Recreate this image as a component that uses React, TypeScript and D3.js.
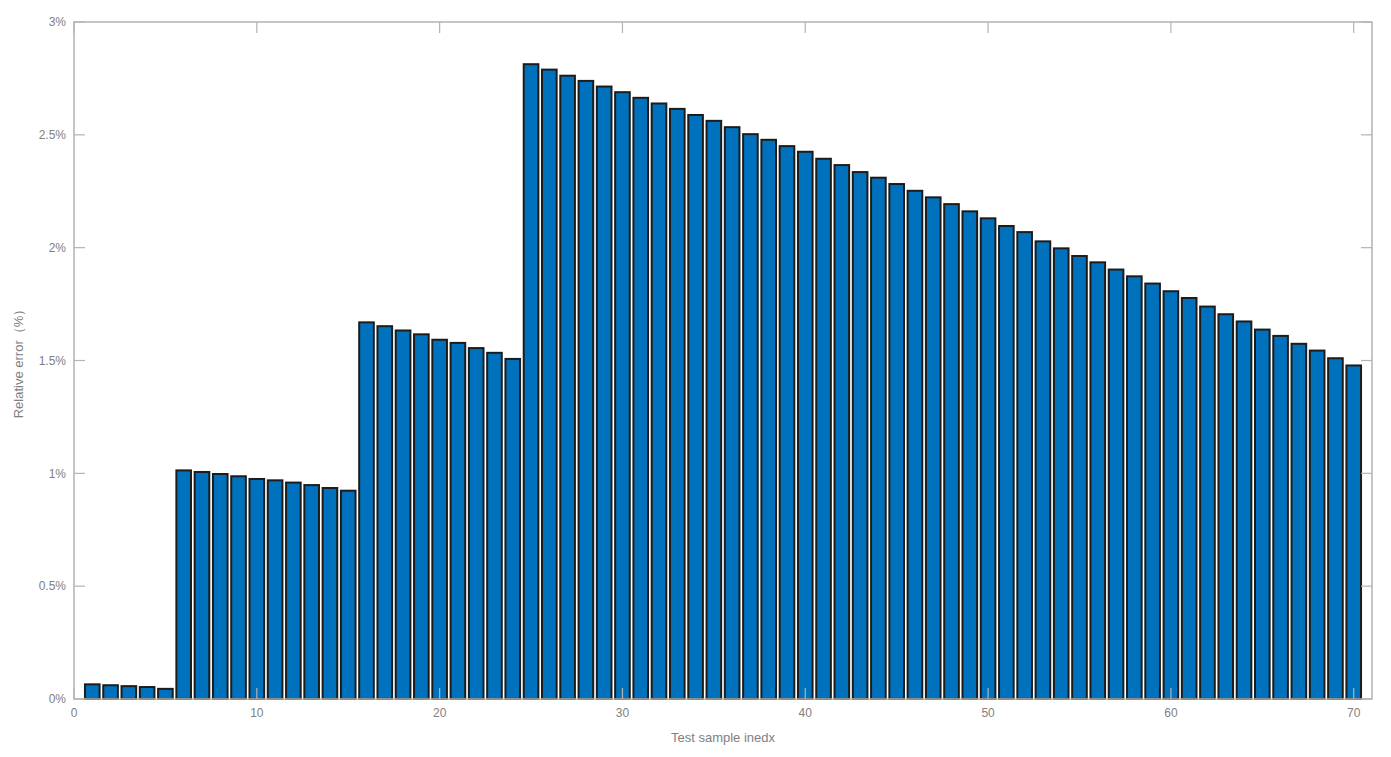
import React from "react";
import * as d3 from "d3";

const sampleIndex: number[] = Array.from({ length: 70 }, (_, i) => i + 1);
const relativeError: number[] = [
  0.065, 0.061, 0.057, 0.053, 0.045,
  1.013, 1.006, 0.997, 0.987, 0.975, 0.969, 0.959, 0.948, 0.935, 0.923,
  1.669, 1.652, 1.633, 1.616, 1.592, 1.578, 1.555, 1.534, 1.507,
  2.813, 2.789, 2.762, 2.739, 2.714, 2.689, 2.664, 2.639, 2.615, 2.588,
  2.562, 2.534, 2.503, 2.478, 2.450, 2.425, 2.394, 2.366, 2.335, 2.310,
  2.282, 2.252, 2.223, 2.193, 2.161, 2.130, 2.096, 2.069, 2.028, 1.997,
  1.963, 1.935, 1.903, 1.873, 1.841, 1.807, 1.777, 1.739, 1.705, 1.673,
  1.637, 1.609, 1.574, 1.544, 1.510, 1.478,
];
const xTicks: number[] = [0, 10, 20, 30, 40, 50, 60, 70];
const yTicks: number[] = [0, 0.5, 1, 1.5, 2, 2.5, 3];
const yTickLabels: string[] = ["0%", "0.5%", "1%", "1.5%", "2%", "2.5%", "3%"];
const xLabel = "Test sample inedx";
const yLabel = "Relative error（%）";

export default function App() {
  const W = 1391, H = 757;
  const left = 74, right = 1372, top = 22, bottom = 699;
  const x = d3.scaleLinear().domain([0, 71]).range([left, right]);
  const y = d3.scaleLinear().domain([0, 3]).range([bottom, top]);
  const barW = 0.8;
  const axisColor = "#b3b3b3";
  const textColor = "#808080";
  const tickLen = 11;
  const font = "'Liberation Sans', Arial, Helvetica, sans-serif";

  return (
    <svg width={W} height={H} style={{ position: "absolute", left: 0, top: 0, background: "#fff" }}>
      {sampleIndex.map((s, i) => {
        const x0 = x(s - barW / 2);
        const x1 = x(s + barW / 2);
        const yt = y(relativeError[i]);
        return (
          <rect
            key={s}
            x={x0}
            y={yt}
            width={x1 - x0}
            height={bottom - yt}
            fill="#0072BD"
            stroke="#1c1c1c"
            strokeWidth={2}
          />
        );
      })}
      {/* box */}
      <rect x={left} y={top} width={right - left} height={bottom - top} fill="none" stroke={axisColor} strokeWidth={1.5} />
      {/* y ticks */}
      {yTicks.map((t, i) => (
        <g key={"y" + t}>
          <line x1={left} x2={left + tickLen} y1={y(t)} y2={y(t)} stroke={axisColor} strokeWidth={1.2} />
          <line x1={right} x2={right - tickLen} y1={y(t)} y2={y(t)} stroke={axisColor} strokeWidth={1.2} />
          <text x={left - 8} y={y(t)} dy="0.35em" textAnchor="end" fontSize={12} fill={textColor} fontFamily={font}>
            {yTickLabels[i]}
          </text>
        </g>
      ))}
      {/* x ticks */}
      {xTicks.map((t) => (
        <g key={"x" + t}>
          <line x1={x(t)} x2={x(t)} y1={bottom} y2={bottom - tickLen} stroke={axisColor} strokeWidth={1.2} />
          <line x1={x(t)} x2={x(t)} y1={top} y2={top + tickLen} stroke={axisColor} strokeWidth={1.2} />
          <text x={x(t)} y={bottom + 18} textAnchor="middle" fontSize={12} fill={textColor} fontFamily={font}>
            {t}
          </text>
        </g>
      ))}
      <text x={(left + right) / 2} y={742} textAnchor="middle" fontSize={13} fill={textColor} fontFamily={font}>
        {xLabel}
      </text>
      <text
        transform={`translate(23, ${(top + bottom) / 2}) rotate(-90)`}
        textAnchor="middle"
        fontSize={13}
        fill={textColor}
        fontFamily={font}
      >
        {yLabel}
      </text>
    </svg>
  );
}
